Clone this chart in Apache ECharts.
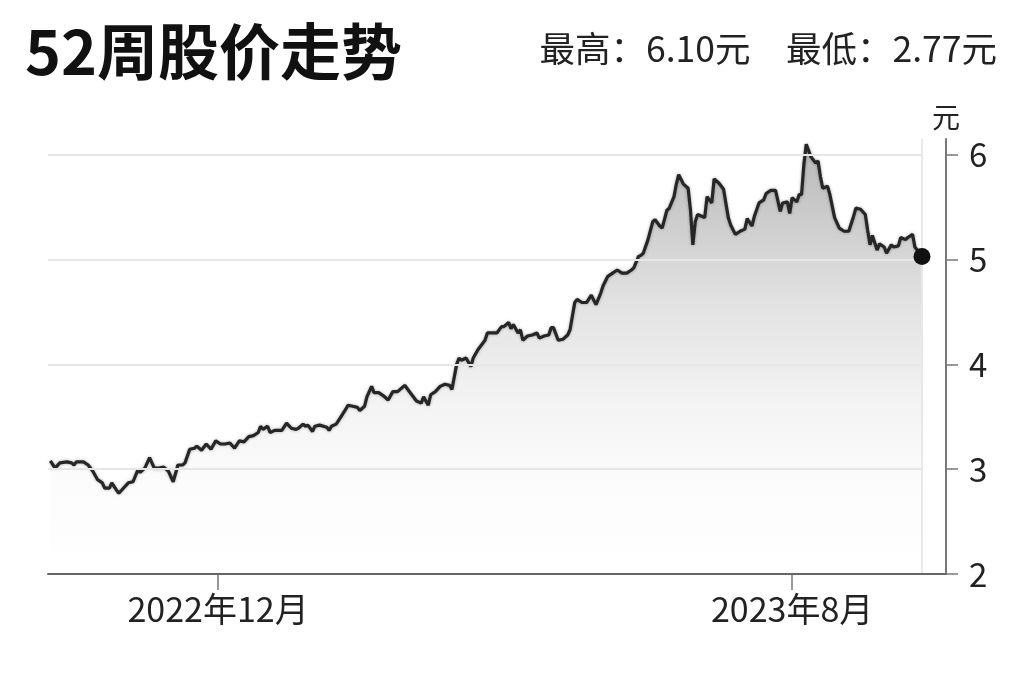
<!DOCTYPE html>
<html><head><meta charset="utf-8">
<script src="https://cdn.jsdelivr.net/npm/echarts@6/dist/echarts.min.js"></script>
<style>html,body{margin:0;padding:0;background:#fff}#c{width:1024px;height:682px}</style>
</head><body><div id="c"></div><script>
const titleText = '52周股价走势';
const unit = '元';
const axisStart = '2022-09-20';
const axisEnd = '2023-09-25';
const xTickDates = ['2022-12-01', '2023-08-01'];
const yTicks = [2, 3, 4, 5, 6];
const dates = [
'2022-09-21','2022-09-23','2022-09-25','2022-09-28','2022-09-30','2022-10-01','2022-10-02','2022-10-05','2022-10-07','2022-10-09',
'2022-10-11','2022-10-13','2022-10-14','2022-10-16','2022-10-17','2022-10-19','2022-10-20','2022-10-22','2022-10-24','2022-10-26',
'2022-10-28','2022-10-29','2022-10-31','2022-11-02','2022-11-04','2022-11-06','2022-11-08','2022-11-10','2022-11-12','2022-11-14',
'2022-11-16','2022-11-17','2022-11-19','2022-11-21','2022-11-22','2022-11-24','2022-11-26','2022-11-28','2022-11-30','2022-12-02',
'2022-12-04','2022-12-06','2022-12-08','2022-12-10','2022-12-12','2022-12-14','2022-12-16','2022-12-18','2022-12-19','2022-12-20',
'2022-12-22','2022-12-23','2022-12-25','2022-12-28','2022-12-30','2023-01-01','2023-01-03','2023-01-04','2023-01-06','2023-01-07',
'2023-01-08','2023-01-10','2023-01-11','2023-01-13','2023-01-16','2023-01-17','2023-01-18','2023-01-20','2023-01-22','2023-01-24',
'2023-01-25','2023-01-27','2023-01-29','2023-01-30','2023-02-01','2023-02-02','2023-02-04','2023-02-05','2023-02-07','2023-02-09',
'2023-02-11','2023-02-13','2023-02-15','2023-02-18','2023-02-21','2023-02-23','2023-02-25','2023-02-26','2023-02-28','2023-03-01',
'2023-03-03','2023-03-05','2023-03-07','2023-03-09','2023-03-10','2023-03-12','2023-03-13','2023-03-14','2023-03-16','2023-03-18',
'2023-03-19','2023-03-21','2023-03-24','2023-03-25','2023-03-27','2023-03-29','2023-03-31','2023-04-01','2023-04-03','2023-04-04',
'2023-04-05','2023-04-07','2023-04-08','2023-04-09','2023-04-11','2023-04-13','2023-04-15','2023-04-16','2023-04-18','2023-04-20',
'2023-04-21','2023-04-22','2023-04-24','2023-04-26','2023-04-28','2023-04-29','2023-05-01','2023-05-02','2023-05-04','2023-05-06',
'2023-05-08','2023-05-10','2023-05-12','2023-05-13','2023-05-15','2023-05-17','2023-05-19','2023-05-21','2023-05-23','2023-05-25',
'2023-05-26','2023-05-28','2023-05-29','2023-05-30','2023-06-01','2023-06-03','2023-06-04','2023-06-06','2023-06-07','2023-06-09',
'2023-06-10','2023-06-12','2023-06-13','2023-06-14','2023-06-16','2023-06-18','2023-06-19','2023-06-20','2023-06-21','2023-06-22',
'2023-06-24','2023-06-25','2023-06-26','2023-06-28','2023-06-29','2023-07-01','2023-07-03','2023-07-05','2023-07-06','2023-07-08',
'2023-07-10','2023-07-12','2023-07-13','2023-07-15','2023-07-16','2023-07-18','2023-07-20','2023-07-21','2023-07-23','2023-07-25',
'2023-07-27','2023-07-28','2023-07-30','2023-07-31','2023-08-01','2023-08-03','2023-08-04','2023-08-05','2023-08-06','2023-08-07',
'2023-08-09','2023-08-11','2023-08-12','2023-08-13','2023-08-14','2023-08-16','2023-08-17','2023-08-19','2023-08-21','2023-08-23',
'2023-08-25','2023-08-27','2023-08-28','2023-08-30','2023-09-01','2023-09-02','2023-09-03','2023-09-04','2023-09-06','2023-09-07',
'2023-09-09','2023-09-10','2023-09-12','2023-09-13','2023-09-15','2023-09-16','2023-09-18','2023-09-19','2023-09-21','2023-09-22',
'2023-09-23','2023-09-25'
];
const prices = [
3.08,3.01,3.06,3.07,3.06,3.04,3.07,3.07,3.04,2.98,
2.90,2.87,2.82,2.82,2.87,2.80,2.77,2.82,2.87,2.88,
2.99,2.97,3.01,3.11,3.01,3.01,3.02,2.98,2.88,3.04,
3.04,3.06,3.19,3.20,3.22,3.18,3.24,3.19,3.27,3.24,
3.24,3.25,3.20,3.27,3.26,3.31,3.32,3.35,3.41,3.38,
3.41,3.35,3.37,3.37,3.44,3.39,3.38,3.39,3.43,3.41,
3.42,3.36,3.41,3.42,3.40,3.37,3.41,3.43,3.50,3.57,
3.61,3.60,3.59,3.56,3.60,3.69,3.79,3.73,3.73,3.70,
3.66,3.74,3.74,3.80,3.71,3.65,3.63,3.69,3.61,3.71,
3.74,3.79,3.81,3.80,3.76,4.00,4.06,4.04,4.06,3.98,
4.06,4.14,4.23,4.30,4.30,4.30,4.36,4.36,4.40,4.34,
4.38,4.30,4.33,4.23,4.27,4.28,4.30,4.25,4.27,4.28,
4.35,4.35,4.23,4.24,4.28,4.33,4.59,4.62,4.59,4.59,
4.66,4.57,4.68,4.75,4.84,4.87,4.90,4.87,4.87,4.90,
4.92,5.03,5.04,5.06,5.19,5.36,5.38,5.32,5.30,5.47,
5.49,5.60,5.72,5.81,5.72,5.68,5.47,5.14,5.36,5.43,
5.41,5.40,5.60,5.54,5.77,5.73,5.67,5.40,5.33,5.24,
5.27,5.29,5.39,5.32,5.41,5.54,5.57,5.63,5.66,5.66,
5.46,5.54,5.55,5.44,5.59,5.55,5.62,5.62,5.91,6.10,
5.98,5.92,5.94,5.79,5.68,5.70,5.62,5.40,5.30,5.27,
5.27,5.41,5.49,5.48,5.43,5.28,5.14,5.23,5.09,5.15,
5.12,5.06,5.14,5.12,5.13,5.21,5.19,5.21,5.24,5.12,
5.09,5.03
];

const pd = s => echarts.number.parseDate(s).getTime();
const seriesData = dates.map((d, i) => [pd(d), prices[i]]);
const last = seriesData[seriesData.length - 1];
const hi = Math.max(...prices), lo = Math.min(...prices);
const FONT = '"Noto Sans CJK SC", "Noto Sans", sans-serif';

const chart = echarts.init(document.getElementById('c'), null, {renderer: 'canvas'});
const option = {
  animation: false,
  backgroundColor: '#ffffff',
  title: [
    {text: titleText, left: 20, top: 16,
     textStyle: {fontFamily: FONT, fontSize: 61, fontWeight: 'bold', color: '#111'}},
    {text: '最高：' + hi.toFixed(2) + unit + '　最低：' + lo.toFixed(2) + unit, right: 22, top: 26,
     textStyle: {fontFamily: FONT, fontSize: 35.5, fontWeight: 'normal', color: '#222'}}
  ],
  grid: [
    {left: 48, right: 102, top: 139, bottom: 108},
    {left: 48, right: 78, top: 139, bottom: 108}
  ],
  xAxis: [
    {type: 'value', gridIndex: 0, min: pd(axisStart), max: pd(axisEnd), scale: true,
     axisLine: {show: false},
     axisTick: {show: true, customValues: xTickDates.map(pd), length: 16, lineStyle: {color: '#777', width: 1.5}},
     axisLabel: {customValues: xTickDates.map(pd),
       formatter: v => { const d = new Date(v); return d.getFullYear() + '年' + (d.getMonth() + 1) + '月'; },
       fontFamily: FONT, fontSize: 34, color: '#222', margin: 18},
     splitLine: {show: false}},
    {type: 'value', gridIndex: 1, min: 0, max: 1, z: 6,
     axisLine: {show: true, onZero: false, lineStyle: {color: '#666', width: 2}},
     axisTick: {show: false}, axisLabel: {show: false}, splitLine: {show: false}}
  ],
  yAxis: [
    {type: 'value', gridIndex: 0, min: 2, max: 6.15, interval: 1, z: 3,
     axisLine: {show: false}, axisTick: {show: false}, axisLabel: {show: false},
     splitLine: {show: true, showMinLine: false, showMaxLine: false, lineStyle: {color: '#e6e6e6', width: 2}}},
    {type: 'value', gridIndex: 1, position: 'right', min: 2, max: 6.15, interval: 1, z: 6,
     name: unit, nameLocation: 'end', nameGap: 8,
     nameTextStyle: {fontFamily: FONT, fontSize: 28, color: '#222', align: 'center', verticalAlign: 'bottom'},
     axisLine: {show: true, onZero: false, lineStyle: {color: '#777', width: 2}},
     axisTick: {show: true, customValues: yTicks, length: 12, lineStyle: {color: '#777', width: 1.5}},
     axisLabel: {customValues: yTicks, fontFamily: FONT, fontSize: 33, color: '#222', margin: 23},
     splitLine: {show: false}}
  ],
  series: [
    {type: 'line', xAxisIndex: 0, yAxisIndex: 0, data: seriesData,
     showSymbol: false, symbol: 'none', z: 2,
     lineStyle: {color: '#262626', width: 3.2, shadowColor: 'rgba(0,0,0,0.35)', shadowBlur: 3},
     areaStyle: {color: new echarts.graphic.LinearGradient(0, 0, 0, 1, [
       {offset: 0, color: '#9a9a9a'},
       {offset: 0.27, color: '#c6c6c6'},
       {offset: 0.38, color: '#d7d7d7'},
       {offset: 0.6, color: '#eeeeee'},
       {offset: 0.78, color: '#fafafa'},
       {offset: 1, color: '#ffffff'}
     ])},
     markLine: {symbol: 'none', silent: true, label: {show: false},
       lineStyle: {color: '#e8e8e8', width: 2, type: 'solid'},
       data: [{xAxis: last[0]}]}
    },
    {type: 'scatter', xAxisIndex: 0, yAxisIndex: 0, data: [last], symbol: 'circle', symbolSize: 17,
     itemStyle: {color: '#111', opacity: 1}, z: 5, silent: true}
  ]
};
chart.setOption(option);
</script></body></html>
